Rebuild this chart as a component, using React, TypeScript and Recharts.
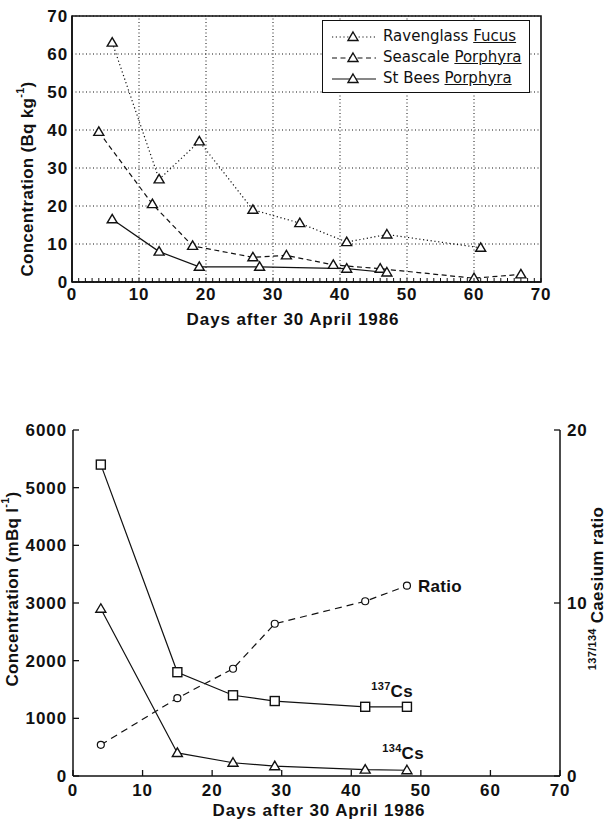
import {
  LineChart,
  Line,
  XAxis,
  YAxis,
  CartesianGrid,
  ReferenceLine,
  ReferenceArea,
  Legend,
  LabelList,
} from "recharts";

const FONT = '"Liberation Sans", Arial, Helvetica, sans-serif';
const LEGEND_FONT = '"DejaVu Sans", Verdana, sans-serif';
const INK = "#111";
const TEXT_SIZE = 17;
const TEXT_WEIGHT = 700;
const TEXT_SPACING = 0.9;

// Seaweed concentrations (Bq kg-1) by days after 30 April 1986
const ravenglassDays = [6, 13, 19, 27, 34, 41, 47, 61];
const ravenglassFucus = [63, 27, 37, 19, 15.5, 10.5, 12.5, 9];
const seascaleDays = [4, 12, 18, 27, 32, 39, 46, 60, 67];
const seascalePorphyra = [39.5, 20.5, 9.5, 6.5, 7, 4.5, 3.5, 1, 2];
const stBeesDays = [6, 13, 19, 28, 41, 47];
const stBeesPorphyra = [16.5, 8, 4, 4, 3.5, 2.5];

const seaweedGridDays = [10, 20, 30, 40, 50, 60];
const seaweedConcTicks = [0, 10, 20, 30, 40, 50, 60, 70];
const dayMinorTicks = Array.from({ length: 71 }, (_, i) => i);

// Water concentrations (mBq l-1) and the 137/134 ratio
const waterDays = [4, 15, 23, 29, 42, 48];
const cs137 = [5400, 1800, 1400, 1300, 1200, 1200];
const cs134 = [2900, 400, 230, 170, 110, 100];
const csRatio = [1.8, 4.5, 6.2, 8.8, 10.1, 11];

const waterDayTicks = [0, 10, 20, 30, 40, 50, 60, 70];
const waterConcTicks = [0, 1000, 2000, 3000, 4000, 5000, 6000];
const ratioTicks = [0, 10, 20];

const seaweedSeries = [
  { site: "Ravenglass", species: "Fucus", days: ravenglassDays, values: ravenglassFucus, dash: "1.2 2.6" },
  { site: "Seascale", species: "Porphyra", days: seascaleDays, values: seascalePorphyra, dash: "5 3.5" },
  { site: "St Bees", species: "Porphyra", days: stBeesDays, values: stBeesPorphyra, dash: undefined },
];

const waterRows = waterDays.map((day, i) => ({
  day,
  cs137: cs137[i],
  cs134: cs134[i],
  ratio: csRatio[i],
}));

const textProps = {
  fontSize: TEXT_SIZE,
  fontWeight: TEXT_WEIGHT,
  letterSpacing: TEXT_SPACING,
  fontFamily: FONT,
  fill: INK,
};
// axis titles run a little tighter than the tick numbers
const titleProps = { ...textProps, letterSpacing: 0.3 };
const tickStyle = { ...textProps };
const axisStyle = { stroke: INK, strokeWidth: 1.5 };

const triangleDot = (props: any) => {
  const { cx, cy, index } = props;
  if (cx == null || cy == null) return <g key={index} />;
  return (
    <path
      key={index}
      d={`M${cx},${cy - 5}L${cx + 5},${cy + 3.5}L${cx - 5},${cy + 3.5}Z`}
      fill="#fff"
      stroke={INK}
      strokeWidth={1.4}
    />
  );
};

const squareDot = (props: any) => {
  const { cx, cy, index } = props;
  if (cx == null || cy == null) return <g key={index} />;
  return <rect key={index} x={cx - 4.5} y={cy - 4.5} width={9} height={9} fill="#fff" stroke={INK} strokeWidth={1.4} />;
};

const circleDot = (props: any) => {
  const { cx, cy, index } = props;
  if (cx == null || cy == null) return <g key={index} />;
  return <circle key={index} cx={cx} cy={cy} r={3.5} fill="#fff" stroke={INK} strokeWidth={1.2} />;
};

// bottom axis with a small inward tick every day, numbers every ten
const DayTick = (props: any) => {
  const { x, y, payload } = props;
  const major = payload.value % 10 === 0;
  return (
    <g>
      <line x1={x} x2={x} y1={y} y2={y - 4} stroke={INK} strokeWidth={1} />
      {major && (
        <text x={x} y={y + 18} textAnchor="middle" {...textProps}>
          {payload.value}
        </text>
      )}
    </g>
  );
};

function SeaweedLegend() {
  return (
    <div
      style={{
        border: `1.5px solid ${INK}`,
        background: "#fff",
        padding: "4px 0 4px 8px",
        fontFamily: LEGEND_FONT,
        fontSize: 15,
        color: INK,
        boxSizing: "border-box",
      }}
    >
      {seaweedSeries.map((s) => (
        <div key={s.site} style={{ display: "flex", alignItems: "center", height: 21 }}>
          <svg width={46} height={14} style={{ flex: "none" }}>
            <line x1={1} x2={45} y1={8} y2={8} stroke={INK} strokeWidth={1.2} strokeDasharray={s.dash} />
            <path d="M22,3L27,11.5L17,11.5Z" fill="#fff" stroke={INK} strokeWidth={1.4} />
          </svg>
          <span style={{ marginLeft: 6, whiteSpace: "nowrap" }}>
            {s.site} <span style={{ textDecoration: "underline" }}>{s.species}</span>
          </span>
        </div>
      ))}
    </div>
  );
}

function SeaweedChart() {
  return (
    <LineChart width={612} height={410} margin={{ top: 16, right: 71, bottom: 15, left: 12 }}>
      <CartesianGrid vertical={false} stroke={INK} strokeDasharray="1 2.5" />
      {seaweedGridDays.map((d) => (
        <ReferenceLine key={d} x={d} stroke={INK} strokeDasharray="1 2.5" />
      ))}
      <ReferenceArea x1={0} x2={70} y1={0} y2={70} fill="none" stroke={INK} strokeWidth={1.6} />
      <XAxis
        type="number"
        dataKey="day"
        domain={[0, 70]}
        ticks={dayMinorTicks}
        interval={0}
        height={40}
        tickSize={0}
        tickMargin={0}
        tickLine={false}
        axisLine={axisStyle}
        tick={<DayTick />}
        label={{
          content: ({ viewBox }: any) => (
            <text x={293} y={viewBox.y + 43} textAnchor="middle" {...textProps}>
              Days after 30 April 1986
            </text>
          ),
        }}
      />
      <YAxis
        type="number"
        domain={[0, 70]}
        ticks={seaweedConcTicks}
        interval={0}
        width={60}
        tickSize={0}
        tickMargin={4}
        tickLine={false}
        axisLine={axisStyle}
        tick={tickStyle}
        label={{
          content: ({ viewBox }: any) => {
            const cx = viewBox.x + 15;
            const cy = 179;
            return (
              <text
                x={cx}
                y={cy}
                transform={`rotate(-90 ${cx} ${cy})`}
                textAnchor="middle"
                dominantBaseline="central"
                {...titleProps}
              >
                Concentration (Bq kg
                <tspan dy={-7} fontSize={11}>-1</tspan>
                <tspan dy={7}>)</tspan>
              </text>
            );
          },
        }}
      />
      {seaweedSeries.map((s) => (
        <Line
          key={s.site}
          data={s.days.map((day, i) => ({ day, value: s.values[i] }))}
          dataKey="value"
          name={`${s.site} ${s.species}`}
          type="linear"
          stroke={INK}
          strokeWidth={1.2}
          strokeDasharray={s.dash}
          dot={triangleDot}
          activeDot={false}
          isAnimationActive={false}
        />
      ))}
      <Legend
        content={<SeaweedLegend />}
        wrapperStyle={{ position: "absolute", left: 322, top: 20, width: 208 }}
      />
    </LineChart>
  );
}

const lastIndex = waterDays.length - 1;

const isotopeLabel = (mass: string, dx: number, dy: number) => (props: any) => {
  const { x, y, index } = props;
  if (index !== lastIndex) return null;
  return (
    <text x={x + dx} y={y + dy} textAnchor="end" {...titleProps}>
      <tspan fontSize={11} dy={-7}>{mass}</tspan>
      <tspan fontSize={TEXT_SIZE} dy={7}>Cs</tspan>
    </text>
  );
};

const ratioLabel = (props: any) => {
  const { x, y, index } = props;
  if (index !== lastIndex) return null;
  return (
    <text x={x + 11} y={y + 6} {...titleProps}>
      Ratio
    </text>
  );
};

function WaterChart() {
  return (
    <LineChart width={612} height={408} data={waterRows} margin={{ top: 16, right: 12, bottom: 12, left: 13 }}>
      <XAxis
        type="number"
        dataKey="day"
        domain={[0, 70]}
        ticks={waterDayTicks}
        interval={0}
        height={34}
        tickSize={-6}
        tickMargin={14}
        tickLine={{ stroke: INK, strokeWidth: 1.3 }}
        axisLine={axisStyle}
        tick={tickStyle}
        label={{
          content: ({ viewBox }: any) => (
            <text x={319} y={viewBox.y + 40} textAnchor="middle" {...textProps}>
              Days after 30 April 1986
            </text>
          ),
        }}
      />
      <YAxis
        yAxisId="conc"
        type="number"
        domain={[0, 6000]}
        ticks={waterConcTicks}
        interval={0}
        width={60}
        tickSize={-6}
        tickMargin={12}
        tickLine={{ stroke: INK, strokeWidth: 1.3 }}
        axisLine={axisStyle}
        tick={tickStyle}
        label={{
          content: ({ viewBox }: any) => {
            const cx = viewBox.x - 1;
            const cy = 175;
            return (
              <text
                x={cx}
                y={cy}
                transform={`rotate(-90 ${cx} ${cy})`}
                textAnchor="middle"
                dominantBaseline="central"
                {...titleProps}
              >
                Concentration (mBq l
                <tspan dy={-7} fontSize={11}>-1</tspan>
                <tspan dy={7}>)</tspan>
              </text>
            );
          },
        }}
      />
      <YAxis
        yAxisId="ratio"
        orientation="right"
        type="number"
        domain={[0, 20]}
        ticks={ratioTicks}
        interval={0}
        width={40}
        tickSize={-6}
        tickMargin={13}
        tickLine={{ stroke: INK, strokeWidth: 1.3 }}
        axisLine={axisStyle}
        tick={tickStyle}
        label={{
          content: ({ viewBox }: any) => {
            const cx = viewBox.x + 37;
            const cy = 174.5;
            return (
              <text
                x={cx}
                y={cy}
                transform={`rotate(-90 ${cx} ${cy})`}
                textAnchor="middle"
                dominantBaseline="central"
                {...titleProps}
              >
                <tspan fontSize={11} dy={-5}>137/134</tspan>
                <tspan fontSize={TEXT_SIZE} dy={5}> Caesium ratio</tspan>
              </text>
            );
          },
        }}
      />
      <Line
        yAxisId="ratio"
        dataKey="ratio"
        type="linear"
        stroke={INK}
        strokeWidth={1.2}
        strokeDasharray="7 5"
        dot={circleDot}
        activeDot={false}
        isAnimationActive={false}
      >
        <LabelList dataKey="ratio" content={ratioLabel} />
      </Line>
      <Line
        yAxisId="conc"
        dataKey="cs137"
        type="linear"
        stroke={INK}
        strokeWidth={1.2}
        dot={squareDot}
        activeDot={false}
        isAnimationActive={false}
      >
        <LabelList dataKey="cs137" content={isotopeLabel("137", 6, -10)} />
      </Line>
      <Line
        yAxisId="conc"
        dataKey="cs134"
        type="linear"
        stroke={INK}
        strokeWidth={1.2}
        dot={triangleDot}
        activeDot={false}
        isAnimationActive={false}
      >
        <LabelList dataKey="cs134" content={isotopeLabel("134", 17, -11)} />
      </Line>
    </LineChart>
  );
}

export default function App() {
  return (
    <div style={{ position: "absolute", left: 0, top: 0, width: 612, height: 822, background: "#fff" }}>
      <div style={{ position: "absolute", left: 0, top: 0 }}>
        <SeaweedChart />
      </div>
      <div style={{ position: "absolute", left: 0, top: 414 }}>
        <WaterChart />
      </div>
    </div>
  );
}
